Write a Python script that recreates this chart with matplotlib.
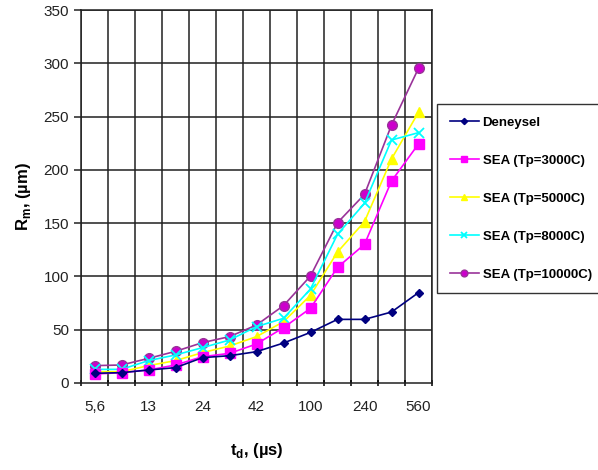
import numpy as np
import matplotlib
matplotlib.use("Agg")
import matplotlib.pyplot as plt

plt.rcParams['font.family'] = ['Liberation Sans', 'DejaVu Sans']

# categories (13 measurement points, labels shown on every other one)
cats = np.arange(13)
tick_labels = ["5,6", "", "13", "", "24", "", "42", "", "100", "", "240", "", "560"]

deneysel = [9.1, 9.7, 12.2, 14.4, 23.8, 25.6, 29.4, 37.5, 47.5, 59.7, 59.7, 66.6, 84.8]
sea_3000 = [8.4, 9.7, 12.2, 16.9, 24.7, 27.8, 36.6, 51.9, 70.1, 108.5, 130.1, 189.5, 224.3]
sea_5000 = [10.6, 10.6, 16.3, 21.0, 28.5, 34.7, 43.5, 57.5, 82.3, 122.9, 151.4, 210.2, 254.0]
sea_8000 = [12.8, 12.8, 21.0, 26.3, 33.2, 40.3, 52.9, 60.7, 88.2, 139.5, 168.6, 228.0, 234.9]
sea_10000 = [16.3, 16.9, 23.1, 29.7, 37.9, 43.5, 54.4, 72.6, 100.4, 150.4, 177.0, 242.0, 295.3]

fig = plt.figure(figsize=(5.98, 4.70), dpi=100)
ax = fig.add_axes([81/598, 1-383/470, 351/598, 373/470])

ax.plot(cats, deneysel, "-", color="#000080", lw=1.2, marker="D", ms=4.5,
        mfc="#000080", mec="#000080", label="Deneysel", zorder=5)
ax.plot(cats, sea_3000, "-", color="#FF00FF", lw=1.2, marker="s", ms=7,
        mfc="#FF00FF", mec="#FF00FF", label="SEA (Tp=3000C)", zorder=4)
ax.plot(cats, sea_5000, "-", color="#FFFF00", lw=1.2, marker="^", ms=7,
        mfc="#FFFF00", mec="#FFFF00", label="SEA (Tp=5000C)", zorder=3)
ax.plot(cats, sea_8000, "-", color="#00FFFF", lw=1.2, marker="x", ms=7,
        mew=1.3, label="SEA (Tp=8000C)", zorder=3)
ax.plot(cats, sea_10000, "-", color="#993399", lw=1.2, marker="o", ms=7,
        mfc="#CC00CC", mec="#993399", label="SEA (Tp=10000C)", zorder=2)

ax.set_xlim(-0.5, 12.5)
ax.set_ylim(0, 350)
ax.set_yticks(np.arange(0, 351, 50))
ax.set_xticks(cats)
ax.set_xticklabels(tick_labels)
ax.set_xticks(np.arange(-0.5, 13, 1), minor=True)

# grid
for xv in np.arange(-0.5, 13, 1):
    ax.axvline(xv, color="#202020", lw=1.1, zorder=1)
for yv in np.arange(50, 351, 50):
    ax.axhline(yv, color="#202020", lw=1.1, zorder=1)

ax.tick_params(axis='x', which='major', length=0, pad=12, labelsize=11, colors="#222222")
ax.tick_params(axis='x', which='minor', length=5, width=1.1, direction='inout')
ax.tick_params(axis='y', length=5, width=1.1, labelsize=11, colors="#222222")
for s in ax.spines.values():
    s.set_color("#202020")
    s.set_linewidth(1.1)

ax.set_xlabel(r"t$_\mathregular{d}$, (µs)", fontsize=12, fontweight='bold', labelpad=20)
ax.set_ylabel(r"R$_\mathregular{m}$, (µm)", fontsize=12, fontweight='bold', labelpad=8)

leg = fig.legend(loc="upper left", bbox_to_anchor=(437/598, 1-104/470), fancybox=False,
                 frameon=True, edgecolor="black", prop={'weight': 'bold', 'size': 9.5},
                 labelspacing=1.95, handlelength=2.2, handletextpad=0.3,
                 borderpad=0.95, borderaxespad=0, markerscale=0.7)
leg.get_frame().set_linewidth(1.0)

fig.savefig("out.png", dpi=100)
